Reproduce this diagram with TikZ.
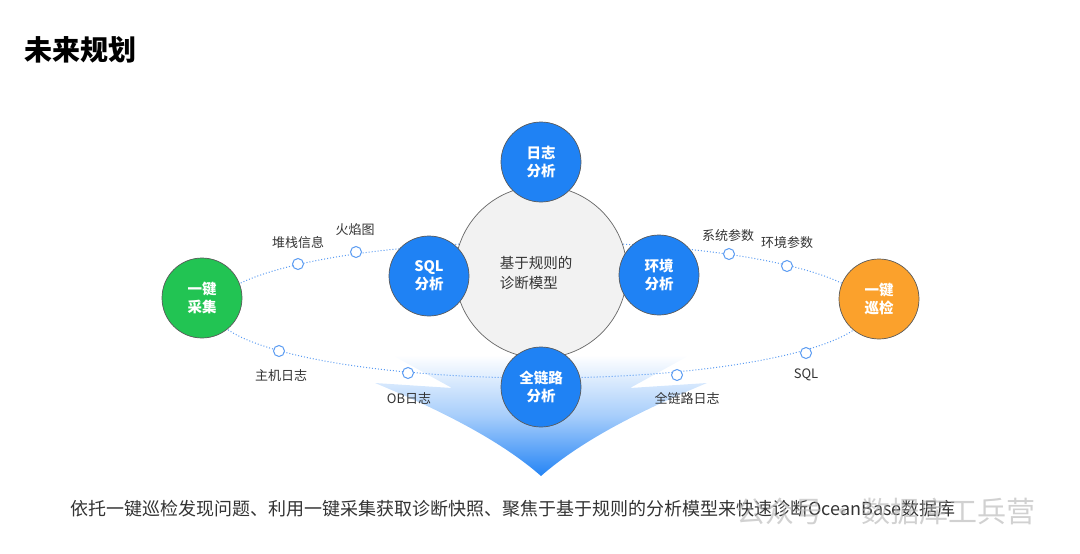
\documentclass[tikz,border=0pt]{standalone}
\usepackage{fontspec}
\setmainfont{Noto Sans CJK SC}
\usetikzlibrary{shadings}
\definecolor{cblue}{HTML}{1F82F4}
\definecolor{cgreen}{HTML}{22C453}
\definecolor{corange}{HTML}{FBA12C}
\definecolor{cgray}{HTML}{F2F2F2}
\definecolor{cline}{HTML}{5A9BF2}
\definecolor{ctext}{HTML}{333333}
\definecolor{fanblue}{HTML}{2484F5}
\tikzset{
  bigc/.style={circle, draw=black!65, line width=0.7pt, minimum size=80pt, inner sep=0pt, font=\bfseries\fontsize{14.5}{18}\selectfont, text=white, align=center},
  dot/.style={circle, draw=cline, fill=white, line width=1pt, minimum size=11pt, inner sep=0pt},
  lbl/.style={font=\fontsize{13}{15}\selectfont, text=ctext, inner sep=0pt},
  orbit/.style={draw=cline, dotted, line width=1pt}
}
\begin{document}
\begin{tikzpicture}[x=1pt,y=-1pt]
\useasboundingbox (0,0) rectangle (1080,554);
% title
\node[anchor=west, font=\bfseries\fontsize{28}{32}\selectfont, text=black, inner sep=0pt] (title) at (24,50) {未来规划};
% fan
\shade[top color=white, bottom color=fanblue, middle color=fanblue!40, shading angle=0]
  (392,355) -- (452,388) -- (375,383) .. controls (440,410) and (500,440) .. (541,476)
  .. controls (582,440) and (642,410) .. (707,383) -- (630,388) -- (690,355) -- cycle;
% orbit
\draw[orbit] (541,310) ellipse [x radius=327, y radius=68];
% central circle
\node[circle, draw=black!60, line width=0.7pt, fill=cgray, minimum size=172pt, inner sep=0pt] (core) at (541,272) {};
\node[align=left, anchor=center, font=\fontsize{14.5}{20}\selectfont, text=ctext, inner sep=0pt] (coretxt) at (536,273) {基于规则的\\诊断模型};
% small circles
\node[dot] (d1) at (298,264) {};
\node[dot] (d2) at (356,252) {};
\node[dot] (d3) at (279,351) {};
\node[dot] (d4) at (408,373) {};
\node[dot] (d5) at (729,254) {};
\node[dot] (d6) at (787,266) {};
\node[dot] (d7) at (806,353) {};
\node[dot] (d8) at (677,375) {};
% labels
\node[lbl] (l1) at (298,243) {堆栈信息};
\node[lbl] (l2) at (355,230) {火焰图};
\node[lbl] (l3) at (281,376) {主机日志};
\node[lbl] (l4) at (409,398) {OB日志};
\node[lbl] (l5) at (728,236) {系统参数};
\node[lbl] (l6) at (787,243) {环境参数};
\node[lbl] (l7) at (806,375) {SQL};
\node[lbl] (l8) at (687,398) {全链路日志};
% big circles
\node[bigc, fill=cblue] (log) at (541,162) {日志\\分析};
\node[bigc, fill=cblue] (sql) at (429,276) {SQL\\分析};
\node[bigc, fill=cblue] (env) at (659,275) {环境\\分析};
\node[bigc, fill=cblue] (trace) at (541,387) {全链路\\分析};
\node[bigc, fill=cgreen] (collect) at (202,298) {一键\\采集};
\node[bigc, fill=corange] (inspect) at (879,299) {一键\\巡检};
% bottom text
\node[font=\fontsize{18}{22}\selectfont, text=ctext, inner sep=0pt] (summary) at (513,509) {依托一键巡检发现问题、利用一键采集获取诊断快照、聚焦于基于规则的分析模型来快速诊断OceanBase数据库};
% watermark
\node[font=\fontsize{29}{32}\selectfont, text=black!30, opacity=0.6, anchor=west, inner sep=0pt] (wm) at (736,511) {公众号\,·\,数据库工兵营};
\end{tikzpicture}
\end{document}
